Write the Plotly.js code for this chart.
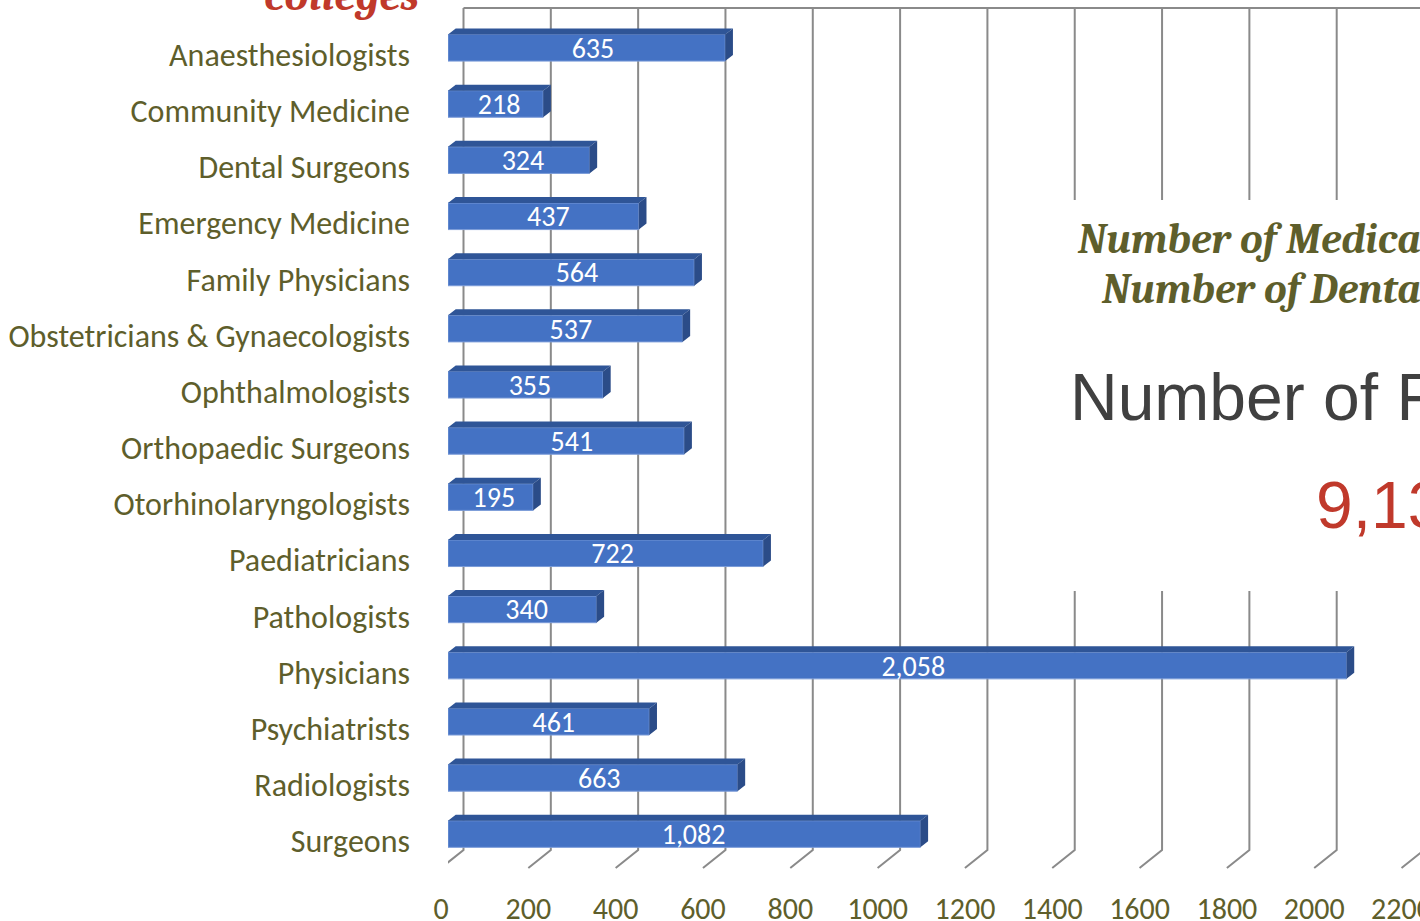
<!DOCTYPE html>
<html>
<head>
<meta charset="utf-8">
<script src="https://cdn.plot.ly/plotly-3.0.1.min.js"></script>
<style>html,body{margin:0;padding:0;background:#fff;overflow:hidden}#chart{width:1420px;height:921px}</style>
</head>
<body>
<div id="chart"></div>
<script>
// ---- data ----
const categories = ["Anaesthesiologists","Community Medicine","Dental Surgeons","Emergency Medicine","Family Physicians","Obstetricians & Gynaecologists","Ophthalmologists","Orthopaedic Surgeons","Otorhinolaryngologists","Paediatricians","Pathologists","Physicians","Psychiatrists","Radiologists","Surgeons"];
const faculty = [635,218,324,437,564,537,355,541,195,722,340,2058,461,663,1082];
const xTicks = [0,200,400,600,800,1000,1200,1400,1600,1800,2000,2200];
const titleTail = "colleges";
const medicalLabel = "Number of Medical Colleges";
const dentalLabel = "Number of Dental Colleges";
const facultyLabel = "Number of Faculty";

// ---- layout geometry ----
const W = 1420, H = 921;
const ML = 448, MT = 8, MB = 53;
const plotW = W - ML, plotH = H - MT - MB;
const pxPerUnit = 0.4366;          // horizontal scale
const pxPerRow = 56.16;            // category spacing
const xMax = plotW / pxPerUnit;
const yTop = -39.8 / pxPerRow;
const yBottom = yTop + plotH / pxPerRow;
const barW = 26.6 / pxPerRow;
const depthX = 7.7 / pxPerUnit, depthY = 6 / pxPerRow;

const idx = categories.map((_, i) => i);
const total = faculty.reduce((a, b) => a + b, 0);

const OLIVE = '#5E5E2B';
const FONT = 'Carlito, Calibri, Lato, sans-serif';

// 3D faces
const topX = [], topY = [], sideX = [], sideY = [];
faculty.forEach((v, i) => {
  const yt = i - barW / 2, yb = i + barW / 2;
  topX.push(0, v, v + depthX, depthX, 0, null);
  topY.push(yt, yt, yt - depthY, yt - depthY, yt, null);
  sideX.push(v, v + depthX, v + depthX, v, v, null);
  sideY.push(yt, yt - depthY, yb - depthY, yb, yt, null);
});
// value labels sit at the perspective centre of each bar
const labelX = faculty.map(v => v * 0.5156 + 4.6);
const labelY = idx.map(i => i + 3 / pxPerRow);

const traces = [
  {
    type: 'bar', orientation: 'h', x: faculty, y: idx, width: barW,
    marker: {color: '#4472C4', line: {color: '#7A9BD8', width: 1}},
    hoverinfo: 'skip', showlegend: false
  },
  {
    type: 'scatter', mode: 'lines', x: topX, y: topY, fill: 'toself',
    fillcolor: '#2F5597', line: {width: 0, color: '#2F5597'}, hoverinfo: 'skip', showlegend: false
  },
  {
    type: 'scatter', mode: 'lines', x: sideX, y: sideY, fill: 'toself',
    fillcolor: '#2B4C88', line: {width: 0, color: '#2B4C88'}, hoverinfo: 'skip', showlegend: false
  },
  {
    type: 'scatter', mode: 'text', x: labelX, y: labelY,
    text: faculty.map(v => v.toLocaleString('en-US')), textposition: 'middle center',
    textfont: {color: '#ffffff', size: 28, family: FONT}, hoverinfo: 'skip', showlegend: false
  }
];

// back-wall gridlines with floor diagonals, generated from the tick values
const shapes = xTicks.map(v => ({
  type: 'path', layer: 'below',
  xref: 'x', xsizemode: 'pixel', xanchor: v,
  yref: 'paper', ysizemode: 'pixel', yanchor: 0,
  path: `M 15.5,${plotH} L 15.5,18 L -7,0`,
  line: {color: '#8A8A8A', width: 2}
}));
shapes.push({
  type: 'path', layer: 'below',
  xref: 'x', xsizemode: 'pixel', xanchor: 0,
  yref: 'paper', ysizemode: 'pixel', yanchor: 0,
  path: `M 15.5,${plotH} L ${plotW + 10},${plotH}`,
  line: {color: '#8A8A8A', width: 2}
});
// white panel behind the summary text
shapes.push({
  type: 'rect', layer: 'below', xref: 'paper', yref: 'paper',
  x0: (1060 - ML) / plotW, x1: 1.02,
  y0: (H - MB - 591) / plotH, y1: (H - MB - 200) / plotH,
  fillcolor: '#ffffff', line: {width: 0}
});

const px = x => (x - ML) / plotW;
const py = y => (H - MB - y) / plotH;
const SERIF = 'Cambria, "Liberation Serif", "DejaVu Serif", serif';

const annotations = [
  {text: titleTail, xref: 'paper', yref: 'paper', x: px(421), y: py(-4), xanchor: 'right', yanchor: 'middle',
   showarrow: false, font: {family: SERIF, size: 44, color: '#C0392B', weight: 'bold', style: 'italic'}},
  {text: medicalLabel, xref: 'paper', yref: 'paper', x: px(1075), y: py(240), xanchor: 'left', yanchor: 'middle',
   showarrow: false, font: {family: SERIF, size: 42, color: OLIVE, weight: 'bold', style: 'italic'}},
  {text: dentalLabel, xref: 'paper', yref: 'paper', x: px(1099), y: py(290), xanchor: 'left', yanchor: 'middle',
   showarrow: false, font: {family: SERIF, size: 42, color: OLIVE, weight: 'bold', style: 'italic'}},
  {text: facultyLabel, xref: 'paper', yref: 'paper', x: px(1068), y: py(397), xanchor: 'left', yanchor: 'middle',
   showarrow: false, font: {family: 'Arial, "Liberation Sans", sans-serif', size: 66, color: '#404040'}},
  {text: total.toLocaleString('en-US'), xref: 'paper', yref: 'paper', x: px(1314), y: py(505), xanchor: 'left', yanchor: 'middle',
   showarrow: false, font: {family: 'Arial, "Liberation Sans", sans-serif', size: 66, color: '#C0392B'}}
];

const layout = {
  width: W, height: H,
  margin: {l: ML, r: 0, t: MT, b: MB, pad: 0},
  paper_bgcolor: '#ffffff', plot_bgcolor: 'rgba(0,0,0,0)',
  showlegend: false,
  xaxis: {
    range: [0, xMax], tickvals: xTicks, ticktext: xTicks.map(String),
    showgrid: false, zeroline: false, showline: false, ticks: '',
    ticklabelshift: -7, ticklabelstandoff: 20, ticklabeloverflow: 'allow',
    tickfont: {family: FONT, size: 30, color: OLIVE}, fixedrange: true
  },
  yaxis: {
    range: [yBottom, yTop], tickvals: idx, ticktext: categories,
    showgrid: false, zeroline: false, showline: false, ticks: '',
    ticklabelshift: -7, ticklabelstandoff: 37, ticklabeloverflow: 'allow',
    tickfont: {family: FONT, size: 32, color: OLIVE}, fixedrange: true
  },
  shapes: shapes,
  annotations: annotations
};

Plotly.newPlot('chart', traces, layout, {staticPlot: true, displayModeBar: false});
</script>
</body>
</html>
